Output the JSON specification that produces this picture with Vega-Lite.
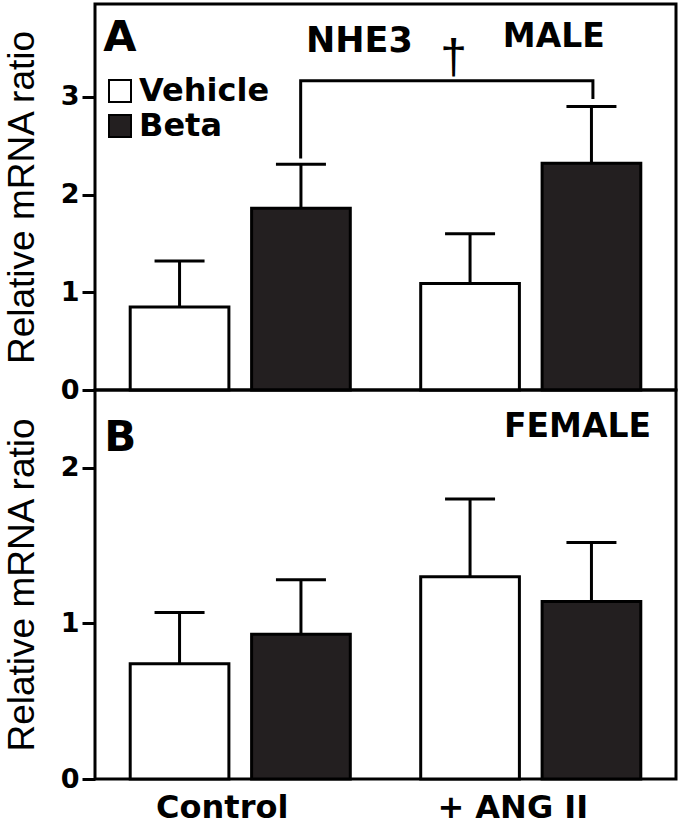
{
  "$schema": "https://vega.github.io/schema/vega-lite/v6.json",
  "padding": {"left": 1, "top": 2, "right": 2, "bottom": 2},
  "spacing": 0,
  "bounds": "flush",
  "background": "white",
  "config": {
    "view": {"stroke": "black", "strokeWidth": 3},
    "font": "DejaVu Sans",
    "axisY": {"labelFontSize": 27, "labelFontWeight": "bold", "labelColor": "black", "labelFont": "DejaVu Sans", "tickSize": 13, "tickWidth": 3, "tickColor": "black", "domain": false, "grid": false, "titleFontSize": 37, "titleFontWeight": "normal", "titleColor": "black", "titleFont": "Liberation Sans", "labelPadding": 3, "titlePadding": 19, "labelFlush": false},
    "axisX": {"domain": false, "ticks": false, "grid": false, "labelFontSize": 32, "labelFontWeight": "bold", "labelColor": "black", "labelFont": "DejaVu Sans", "labelAngle": 0, "labelPadding": 13}
  },
  "datasets": {
    "male": [
      {"group": "Control", "treatment": "Vehicle", "mean": 0.85, "upper": 1.32},
      {"group": "Control", "treatment": "Beta", "mean": 1.86, "upper": 2.31},
      {"group": "+ ANG II", "treatment": "Vehicle", "mean": 1.09, "upper": 1.60},
      {"group": "+ ANG II", "treatment": "Beta", "mean": 2.32, "upper": 2.90}
    ],
    "female": [
      {"group": "Control", "treatment": "Vehicle", "mean": 0.74, "upper": 1.07},
      {"group": "Control", "treatment": "Beta", "mean": 0.93, "upper": 1.28},
      {"group": "+ ANG II", "treatment": "Vehicle", "mean": 1.30, "upper": 1.80},
      {"group": "+ ANG II", "treatment": "Beta", "mean": 1.14, "upper": 1.52}
    ],
    "maleText": [
      {"label": "A", "kind": "letter", "x": 0.014, "y": 3.47},
      {"label": "NHE3", "kind": "gene", "x": 0.363, "y": 3.46},
      {"label": "MALE", "kind": "sex", "x": 0.702, "y": 3.51},
      {"label": "†", "kind": "sig", "x": 0.617, "y": 3.39}
    ],
    "femaleText": [
      {"label": "B", "kind": "letter", "x": 0.016, "y": 2.108},
      {"label": "FEMALE", "kind": "sex", "x": 0.704, "y": 2.20}
    ],
    "bracket": [
      {"step": 1, "x": 0.354, "y": 2.37},
      {"step": 2, "x": 0.354, "y": 3.164},
      {"step": 3, "x": 0.857, "y": 3.164},
      {"step": 4, "x": 0.857, "y": 2.977}
    ]
  },
  "resolve": {"legend": {"fill": "independent"}},
  "vconcat": [
    {
      "width": 581,
      "height": 386,
      "resolve": {"scale": {"x": "independent"}},
      "layer": [
        {
          "data": {"name": "male"},
          "encoding": {
            "x": {"field": "group", "type": "nominal", "sort": ["Control", "+ ANG II"], "scale": {"paddingInner": 0, "paddingOuter": 0}, "axis": null},
            "xOffset": {"field": "treatment", "type": "nominal", "sort": ["Vehicle", "Beta"], "scale": {"paddingInner": 0.187, "paddingOuter": 0.29}}
          },
          "layer": [
            {
              "mark": {"type": "rule", "strokeWidth": 3, "color": "black"},
              "encoding": {
                "y": {"field": "mean", "type": "quantitative", "scale": {"domain": [0, 3.95], "nice": false}, "axis": {"title": "Relative mRNA ratio", "values": [0, 1, 2, 3]}},
                "y2": {"field": "upper"}
              }
            },
            {
              "mark": {"type": "tick", "thickness": 3, "size": 50, "color": "black", "opacity": 1},
              "encoding": {
                "y": {"field": "upper", "type": "quantitative", "scale": {"domain": [0, 3.95], "nice": false}, "axis": {"title": "Relative mRNA ratio", "values": [0, 1, 2, 3]}}
              }
            },
            {
              "mark": {"type": "bar", "stroke": "black", "strokeWidth": 3, "opacity": 1},
              "encoding": {
                "y": {"field": "mean", "type": "quantitative", "scale": {"domain": [0, 3.95], "nice": false}, "axis": {"title": "Relative mRNA ratio", "values": [0, 1, 2, 3]}},
                "fill": {"field": "treatment", "type": "nominal", "sort": ["Vehicle", "Beta"], "scale": {"domain": ["Vehicle", "Beta"], "range": ["white", "#231f20"]},
                  "legend": {"orient": "none", "legendX": 9, "legendY": 71, "title": null, "symbolType": "square", "symbolSize": 484, "symbolStrokeColor": "black", "symbolStrokeWidth": 2, "labelFontSize": 32, "labelFontWeight": "bold", "labelFont": "DejaVu Sans", "labelColor": "black", "labelOffset": 3, "rowPadding": 3, "padding": 0}}
              }
            }
          ]
        },
        {
          "layer": [
            {
              "data": {"name": "bracket"},
              "mark": {"type": "line", "strokeWidth": 3, "color": "black", "interpolate": "linear"},
              "encoding": {
                "x": {"field": "x", "type": "quantitative", "scale": {"domain": [0, 1], "nice": false, "zero": false}, "axis": null},
                "y": {"field": "y", "type": "quantitative", "scale": {"domain": [0, 3.95], "nice": false}, "axis": {"title": "Relative mRNA ratio", "values": [0, 1, 2, 3]}},
                "order": {"field": "step", "type": "quantitative"}
              }
            },
            {
              "data": {"name": "maleText"},
              "transform": [{"filter": "datum.kind === 'letter'"}],
              "mark": {"type": "text", "font": "DejaVu Sans", "fontWeight": "bold", "fontSize": 43, "align": "left", "baseline": "alphabetic", "color": "black"},
              "encoding": {
                "x": {"field": "x", "type": "quantitative", "scale": {"domain": [0, 1], "nice": false, "zero": false}, "axis": null},
                "y": {"field": "y", "type": "quantitative", "scale": {"domain": [0, 3.95], "nice": false}, "axis": {"title": "Relative mRNA ratio", "values": [0, 1, 2, 3]}},
                "text": {"field": "label"}
              }
            },
            {
              "data": {"name": "maleText"},
              "transform": [{"filter": "datum.kind === 'gene'"}],
              "mark": {"type": "text", "font": "DejaVu Sans", "fontWeight": "bold", "fontSize": 35, "align": "left", "baseline": "alphabetic", "color": "black"},
              "encoding": {
                "x": {"field": "x", "type": "quantitative", "scale": {"domain": [0, 1], "nice": false, "zero": false}, "axis": null},
                "y": {"field": "y", "type": "quantitative", "scale": {"domain": [0, 3.95], "nice": false}, "axis": {"title": "Relative mRNA ratio", "values": [0, 1, 2, 3]}},
                "text": {"field": "label"}
              }
            },
            {
              "data": {"name": "maleText"},
              "transform": [{"filter": "datum.kind === 'sex'"}],
              "mark": {"type": "text", "font": "DejaVu Sans", "fontWeight": "bold", "fontSize": 33, "align": "left", "baseline": "alphabetic", "color": "black"},
              "encoding": {
                "x": {"field": "x", "type": "quantitative", "scale": {"domain": [0, 1], "nice": false, "zero": false}, "axis": null},
                "y": {"field": "y", "type": "quantitative", "scale": {"domain": [0, 3.95], "nice": false}, "axis": {"title": "Relative mRNA ratio", "values": [0, 1, 2, 3]}},
                "text": {"field": "label"}
              }
            },
            {
              "data": {"name": "maleText"},
              "transform": [{"filter": "datum.kind === 'sig'"}],
              "mark": {"type": "text", "font": "Liberation Sans", "fontWeight": "normal", "fontSize": 48, "align": "center", "baseline": "middle", "color": "black"},
              "encoding": {
                "x": {"field": "x", "type": "quantitative", "scale": {"domain": [0, 1], "nice": false, "zero": false}, "axis": null},
                "y": {"field": "y", "type": "quantitative", "scale": {"domain": [0, 3.95], "nice": false}, "axis": {"title": "Relative mRNA ratio", "values": [0, 1, 2, 3]}},
                "text": {"field": "label"}
              }
            }
          ]
        }
      ]
    },
    {
      "width": 581,
      "height": 389,
      "resolve": {"scale": {"x": "independent"}},
      "layer": [
        {
          "data": {"name": "female"},
          "encoding": {
            "x": {"field": "group", "type": "nominal", "sort": ["Control", "+ ANG II"], "scale": {"paddingInner": 0, "paddingOuter": 0}, "axis": {"title": null, "labelOffset": -18}},
            "xOffset": {"field": "treatment", "type": "nominal", "sort": ["Vehicle", "Beta"], "scale": {"paddingInner": 0.187, "paddingOuter": 0.29}}
          },
          "layer": [
            {
              "mark": {"type": "rule", "strokeWidth": 3, "color": "black"},
              "encoding": {
                "y": {"field": "mean", "type": "quantitative", "scale": {"domain": [0, 2.5], "nice": false}, "axis": {"title": "Relative mRNA ratio", "values": [0, 1, 2]}},
                "y2": {"field": "upper"}
              }
            },
            {
              "mark": {"type": "tick", "thickness": 3, "size": 50, "color": "black", "opacity": 1},
              "encoding": {
                "y": {"field": "upper", "type": "quantitative", "scale": {"domain": [0, 2.5], "nice": false}, "axis": {"title": "Relative mRNA ratio", "values": [0, 1, 2]}}
              }
            },
            {
              "mark": {"type": "bar", "stroke": "black", "strokeWidth": 3, "opacity": 1},
              "encoding": {
                "y": {"field": "mean", "type": "quantitative", "scale": {"domain": [0, 2.5], "nice": false}, "axis": {"title": "Relative mRNA ratio", "values": [0, 1, 2]}},
                "fill": {"field": "treatment", "type": "nominal", "sort": ["Vehicle", "Beta"], "scale": {"domain": ["Vehicle", "Beta"], "range": ["white", "#231f20"]}, "legend": null}
              }
            }
          ]
        },
        {
          "data": {"name": "femaleText"},
          "layer": [
            {
              "transform": [{"filter": "datum.kind === 'letter'"}],
              "mark": {"type": "text", "font": "DejaVu Sans", "fontWeight": "bold", "fontSize": 42, "align": "left", "baseline": "alphabetic", "color": "black"},
              "encoding": {
                "x": {"field": "x", "type": "quantitative", "scale": {"domain": [0, 1], "nice": false, "zero": false}, "axis": null},
                "y": {"field": "y", "type": "quantitative", "scale": {"domain": [0, 2.5], "nice": false}, "axis": {"title": "Relative mRNA ratio", "values": [0, 1, 2]}},
                "text": {"field": "label"}
              }
            },
            {
              "transform": [{"filter": "datum.kind === 'sex'"}],
              "mark": {"type": "text", "font": "DejaVu Sans", "fontWeight": "bold", "fontSize": 33, "align": "left", "baseline": "alphabetic", "color": "black"},
              "encoding": {
                "x": {"field": "x", "type": "quantitative", "scale": {"domain": [0, 1], "nice": false, "zero": false}, "axis": null},
                "y": {"field": "y", "type": "quantitative", "scale": {"domain": [0, 2.5], "nice": false}, "axis": {"title": "Relative mRNA ratio", "values": [0, 1, 2]}},
                "text": {"field": "label"}
              }
            }
          ]
        }
      ]
    }
  ]
}
